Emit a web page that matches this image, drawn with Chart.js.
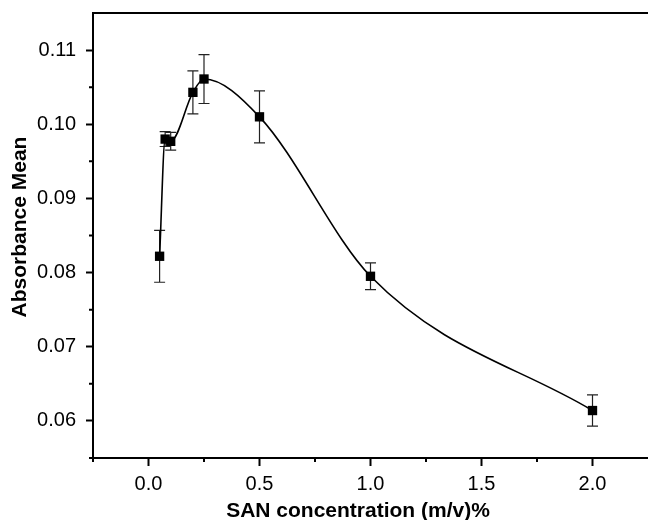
<!DOCTYPE html>
<html>
<head>
<meta charset="utf-8">
<script src="https://cdn.jsdelivr.net/npm/chart.js@4/dist/chart.umd.min.js"></script>
<style>
  html, body { margin: 0; padding: 0; background: #fff; overflow: hidden; }
  #c { display: block; }
</style>
</head>
<body>
<canvas id="c" width="648" height="520"></canvas>
<script>
// ---- data ----
const concentrations = [0.05, 0.075, 0.1, 0.2, 0.25, 0.5, 1.0, 2.0];
const absorbanceMean = [0.0822, 0.0980, 0.0977, 0.1043, 0.1061, 0.1010, 0.0795, 0.0614];
const absorbanceSD   = [0.0035, 0.0010, 0.0012, 0.0029, 0.0033, 0.0035, 0.0018, 0.0021];
const xTickValues = [0.0, 0.5, 1.0, 1.5, 2.0];
const xMinorTicks = [-0.25, 0.25, 0.75, 1.25, 1.75];
const yTickValues = [0.06, 0.07, 0.08, 0.09, 0.10, 0.11];
const yMinorTicks = [0.055, 0.065, 0.075, 0.085, 0.095, 0.105];
const xTitle = 'SAN concentration (m/v)%';
const yTitle = 'Absorbance Mean';

const FONT = "'Liberation Sans', Arial, Helvetica, sans-serif";
const TITLE_FONT = "bold 21px " + FONT;

const errorBars = {
  id: 'errorBars',
  beforeDatasetsDraw(chart) {
    const {ctx, scales: {x, y}} = chart;
    ctx.save();
    ctx.strokeStyle = '#222';
    ctx.lineWidth = 1.2;
    concentrations.forEach((c, i) => {
      const px = x.getPixelForValue(c);
      const top = y.getPixelForValue(absorbanceMean[i] + absorbanceSD[i]);
      const bot = y.getPixelForValue(absorbanceMean[i] - absorbanceSD[i]);
      ctx.beginPath();
      ctx.moveTo(px, top); ctx.lineTo(px, bot);
      ctx.moveTo(px - 5.5, top); ctx.lineTo(px + 5.5, top);
      ctx.moveTo(px - 5.5, bot); ctx.lineTo(px + 5.5, bot);
      ctx.stroke();
    });
    ctx.restore();
  }
};

const frameMinorTitles = {
  id: 'frameMinorTitles',
  afterDraw(chart) {
    const {ctx, chartArea: a, scales: {x, y}} = chart;
    ctx.save();
    ctx.strokeStyle = '#000';
    ctx.lineWidth = 2;
    ctx.beginPath();
    ctx.moveTo(a.left - 1, a.top);
    ctx.lineTo(chart.width, a.top);
    ctx.stroke();
    ctx.beginPath();
    xMinorTicks.forEach(v => {
      const px = x.getPixelForValue(v);
      ctx.moveTo(px, a.bottom); ctx.lineTo(px, a.bottom + 4);
    });
    yMinorTicks.forEach(v => {
      const py = y.getPixelForValue(v);
      ctx.moveTo(a.left, py); ctx.lineTo(a.left - 4, py);
    });
    ctx.stroke();
    // axis titles
    ctx.fillStyle = '#000';
    ctx.font = TITLE_FONT;
    ctx.textAlign = 'center';
    ctx.textBaseline = 'alphabetic';
    ctx.fillText(xTitle, 358, 517);
    ctx.save();
    ctx.translate(26, 227);
    ctx.rotate(-Math.PI / 2);
    ctx.fillText(yTitle, 0, 0);
    ctx.restore();
    ctx.restore();
  }
};

new Chart(document.getElementById('c'), {
  type: 'line',
  data: {
    datasets: [{
      data: concentrations.map((c, i) => ({x: c, y: absorbanceMean[i]})),
      borderColor: '#000',
      borderWidth: 1.6,
      backgroundColor: '#000',
      pointStyle: 'rect',
      pointRadius: 6.6,
      pointBorderWidth: 0,
      pointBackgroundColor: '#000',
      cubicInterpolationMode: 'monotone',
      fill: false
    }]
  },
  options: {
    responsive: false,
    devicePixelRatio: 1,
    animation: false,
    layout: { autoPadding: false, padding: { top: 13, right: 0, bottom: 0, left: 0 } },
    plugins: { legend: { display: false }, tooltip: { enabled: false } },
    scales: {
      x: {
        type: 'linear',
        min: -0.25,
        max: 2.25,
        afterBuildTicks: s => { s.ticks = xTickValues.map(v => ({value: v})); },
        afterFit: s => { s.height = 62; s.paddingLeft = 0; s.paddingRight = 0; },
        ticks: {
          color: '#000',
          font: { family: FONT, size: 20 },
          padding: 6,
          maxRotation: 0,
          autoSkip: false,
          callback: v => Number(v).toFixed(1)
        },
        grid: { drawOnChartArea: false, drawTicks: true, tickLength: 8, tickWidth: 2, tickColor: '#000' },
        border: { display: true, color: '#000', width: 2 },
        title: { display: false }
      },
      y: {
        type: 'linear',
        min: 0.055,
        max: 0.115,
        afterBuildTicks: s => { s.ticks = yTickValues.map(v => ({value: v})); },
        afterFit: s => { s.width = 93; s.paddingTop = 0; s.paddingBottom = 0; },
        ticks: {
          color: '#000',
          font: { family: FONT, size: 20 },
          padding: 10,
          autoSkip: false,
          callback: v => Number(v).toFixed(2)
        },
        grid: { drawOnChartArea: false, drawTicks: true, tickLength: 7, tickWidth: 2, tickColor: '#000' },
        border: { display: true, color: '#000', width: 2 },
        title: { display: false }
      }
    }
  },
  plugins: [errorBars, frameMinorTitles]
});
</script>
</body>
</html>
